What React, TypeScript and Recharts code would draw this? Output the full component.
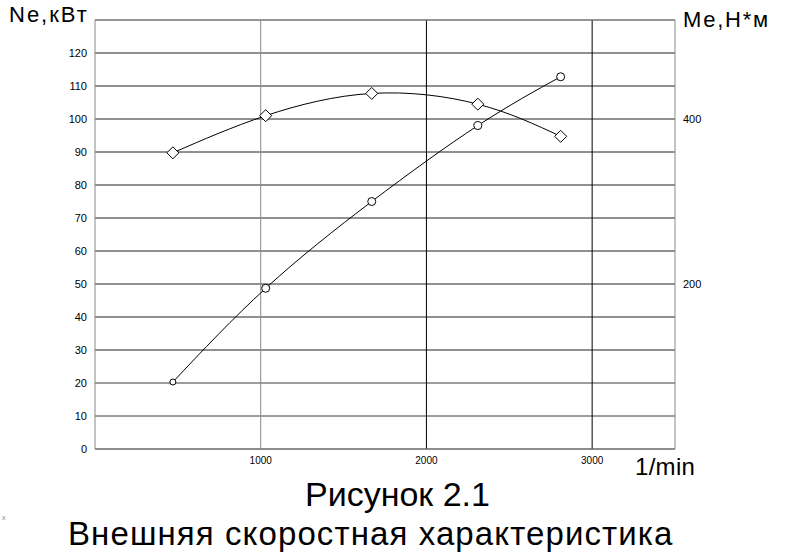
import { LineChart, Line, XAxis, YAxis, CartesianGrid, ReferenceLine } from 'recharts';

const rpm = [470, 1030, 1670, 2310, 2810];
const powerKw = [20.3, 48.7, 75, 98, 112.8];
const torqueNm = [359, 404, 431, 418, 379];

const xTicks = [1000, 2000, 3000];
const leftTicks = [0, 10, 20, 30, 40, 50, 60, 70, 80, 90, 100, 110, 120];
const rightTicks = [200, 400];
const lightRows = [10, 20];

const data = rpm.map((n, i) => ({ n, ne: powerKw[i], me: torqueNm[i] }));

const font = '"Liberation Sans", Arial, sans-serif';

const Diamond = (props: any) => {
  const { cx, cy } = props;
  if (cx == null || cy == null) return null;
  const s = 6;
  return (
    <path
      d={`M${cx},${cy - s}L${cx + s},${cy}L${cx},${cy + s}L${cx - s},${cy}Z`}
      fill="#fff"
      stroke="#000"
      strokeWidth={1}
    />
  );
};

const Ring = (props: any) => {
  const { cx, cy, index } = props;
  if (cx == null || cy == null) return null;
  return <circle cx={cx} cy={cy} r={index === 0 ? 3 : 4} fill="#fff" stroke="#000" strokeWidth={1} />;
};

const label = (left: number, top: number, size: number, text: string, spacing = 0) => (
  <div
    style={{
      position: 'absolute',
      left,
      top,
      fontSize: size,
      fontFamily: font,
      lineHeight: 1,
      letterSpacing: spacing,
      whiteSpace: 'nowrap',
      color: '#000',
    }}
  >
    {text}
  </div>
);

export default function App() {
  return (
    <div style={{ position: 'absolute', left: 0, top: 0, width: 800, height: 554, background: '#fff' }}>
      <LineChart
        width={800}
        height={554}
        data={data}
        margin={{ top: 20, right: 65, left: 35, bottom: 75 }}
      >
        <CartesianGrid yAxisId="left" vertical={false} stroke="#222" strokeWidth={1} />
        <XAxis
          dataKey="n"
          type="number"
          domain={[0, 3500]}
          ticks={xTicks}
          tickLine={false}
          axisLine={{ stroke: '#888' }}
          tick={{ fontSize: 10, fill: '#000', fontFamily: font }}
          height={30}
        />
        <YAxis
          yAxisId="left"
          domain={[0, 130]}
          ticks={leftTicks}
          interval={0}
          tickLine={false}
          axisLine={{ stroke: '#888' }}
          tick={{ fontSize: 11, fill: '#000', fontFamily: font }}
          width={60}
        />
        <YAxis
          yAxisId="right"
          orientation="right"
          domain={[0, 520]}
          ticks={rightTicks}
          tickLine={false}
          axisLine={{ stroke: '#888' }}
          tick={{ fontSize: 11, fill: '#000', fontFamily: font, textAnchor: 'start' }}
          width={60}
        />
        {lightRows.map((v) => (
          <ReferenceLine key={v} yAxisId="left" y={v} stroke="#aaa" />
        ))}
        <ReferenceLine yAxisId="left" x={1000} stroke="#888" />
        <ReferenceLine yAxisId="left" x={2000} stroke="#000" />
        <ReferenceLine yAxisId="left" x={3000} stroke="#000" />
        <ReferenceLine yAxisId="left" y={130} stroke="#999" />
        <Line
          yAxisId="left"
          dataKey="ne"
          type="natural"
          stroke="#000"
          strokeWidth={1}
          dot={<Ring />}
          activeDot={false}
          isAnimationActive={false}
        />
        <Line
          yAxisId="right"
          dataKey="me"
          type="natural"
          stroke="#000"
          strokeWidth={1}
          dot={<Diamond />}
          activeDot={false}
          isAnimationActive={false}
        />
      </LineChart>
      {label(9, 4, 22, 'Ne,кВт', 2)}
      {label(683, 9, 22, 'Me,H*м', 1.8)}
      {label(635, 455, 24, '1/min', 0.3)}
      {label(305, 477, 34, 'Рисунок 2.1')}
      {label(68, 517, 33, 'Внешняя скоростная характеристика', 1.1)}
      <div style={{ position: 'absolute', left: 2, top: 514, fontSize: 7, color: '#888', fontFamily: font }}>x</div>
    </div>
  );
}
